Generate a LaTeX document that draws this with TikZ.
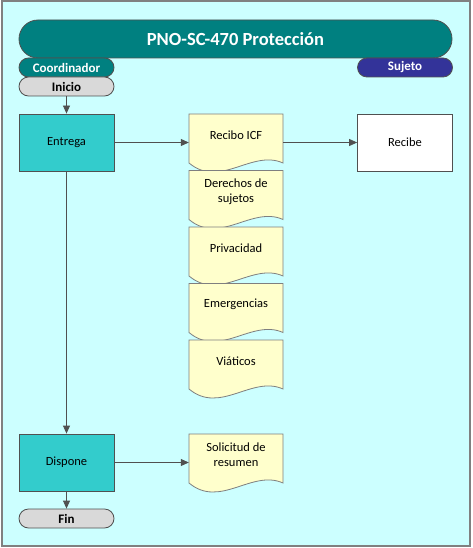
\documentclass[tikz,border=0pt]{standalone}
\usepackage{fontspec}
\setmainfont{Carlito}
\usetikzlibrary{arrows.meta}
\definecolor{bgcyan}{HTML}{CCFFFF}
\definecolor{teal0}{HTML}{008080}
\definecolor{navy0}{HTML}{333399}
\definecolor{proc}{HTML}{33CCCC}
\definecolor{docy}{HTML}{FFFFCC}
\definecolor{pillgray}{HTML}{D9D9D9}
\definecolor{edge}{HTML}{505050}
\definecolor{docedge}{HTML}{7F7F7F}
\tikzset{
  pill/.style={draw=edge, line width=0.8pt, minimum width=95pt, minimum height=19pt, rounded corners=9.5pt, inner sep=0pt},
  lane/.style={pill, text=white, font=\fontsize{13}{15}\selectfont\bfseries},
  term/.style={pill, fill=pillgray, font=\fontsize{13}{15}\selectfont\bfseries},
  procbox/.style={draw=edge, line width=0.8pt, minimum width=95pt, minimum height=57pt, inner sep=0pt, font=\fontsize{12.5}{15}\selectfont},
  docshape/.style={draw=docedge, line width=0.8pt, fill=docy},
  docarea/.style={minimum width=94pt, minimum height=57pt, inner sep=0pt, draw=none},
  doctext/.style={font=\fontsize{12.5}{15}\selectfont, align=center, inner sep=0pt},
  arr/.style={draw=edge, line width=0.8pt, -{Triangle[length=8pt,width=7pt]}},
}
\newcommand\docbox[3]{%
  \draw[docshape] (189,#2) -- (283,#2) -- (283,#2+49) .. controls (252,#2+35) and (220,#2+75) .. (189,#2+49) -- cycle;
  \node[docarea] (#1) at (236,#2+28.5) {};
  \node[doctext] (#1-t) at (236,#2+21) {#3};
}
\begin{document}
\begin{tikzpicture}[x=1pt,y=-1pt]
\useasboundingbox (0,0) rectangle (472,548);
\fill[white] (0,0) rectangle (472,548);
\draw[fill=bgcyan, draw=gray, line width=2pt] (1.5,1.5) rectangle (469.5,546);

\node[draw=edge, line width=0.8pt, fill=teal0, minimum width=433pt, minimum height=38pt, rounded corners=19pt, inner sep=0pt, text=white, font=\fontsize{18.5}{22}\selectfont\bfseries] (title) at (235.5,39) {PNO-SC-470 Protección};
\node[lane, fill=teal0] (coord) at (66.5,67.5) {Coordinador};
\node[lane, fill=navy0] (sujeto) at (405,67.5) {Sujeto};
\node[term] (inicio) at (66.5,86.5) {Inicio};

\node[procbox, fill=proc] (entrega) at (66.5,142.5) {Entrega};
\node[procbox, fill=white] (recibe) at (405,142.5) {Recibe};
\node[procbox, fill=proc] (dispone) at (66.5,462.5) {Dispone};
\node[term] (fin) at (66.5,518.5) {Fin};

\docbox{recibo}{114}{Recibo ICF}
\docbox{derechos}{170.5}{Derechos de\\sujetos}
\docbox{privacidad}{227}{Privacidad}
\docbox{emergencias}{283.5}{Emergencias}
\docbox{viaticos}{340}{Viáticos}
\docbox{solicitud}{434}{Solicitud de\\resumen}

\draw[arr] (inicio) -- (entrega);
\draw[arr] (entrega) -- (recibo);
\draw[arr] (recibo) -- (recibe);
\draw[arr] (entrega) -- (dispone);
\draw[arr] (dispone) -- (solicitud);
\draw[arr] (dispone) -- (fin);
\end{tikzpicture}
\end{document}
